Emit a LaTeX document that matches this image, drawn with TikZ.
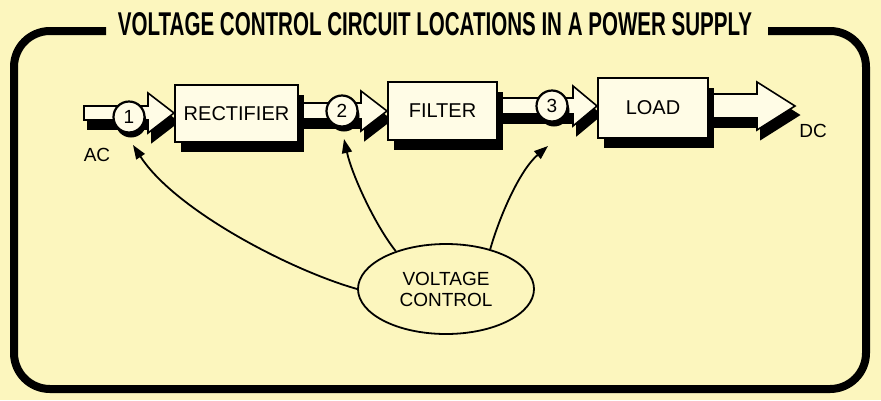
\documentclass[tikz,border=0pt]{standalone}
\usepackage{fontspec}
\setmainfont{Liberation Sans}
\usepackage{graphicx}
\usetikzlibrary{arrows.meta,positioning,shapes.geometric,calc,shadows,backgrounds}

\definecolor{paper}{RGB}{252,246,190}
\definecolor{boxfill}{RGB}{255,252,230}

\pgfdeclarelayer{paperlayer}
\pgfsetlayers{paperlayer,background,main}

\tikzset{
  blockbox/.style={draw, line width=2pt, fill=boxfill, inner sep=0pt,
    font=\fontsize{20}{22}\selectfont,
    drop shadow={shadow xshift=6pt, shadow yshift=-10pt, fill=black, opacity=1}},
  tapnode/.style={circle, draw, line width=2.2pt, fill=boxfill, minimum size=31pt, inner sep=0pt,
    font=\fontsize{19}{21}\selectfont,
    drop shadow={shadow xshift=2pt, shadow yshift=-5pt, fill=black, opacity=1}},
  ctrlarrow/.style={line width=1.8pt, -{Triangle[length=14pt,width=10pt]}},
  sidelabel/.style={font=\fontsize{19}{21}\selectfont, inner sep=0pt},
}

% fat band arrow: #1 start, #2 tip, #3 half band, #4 head length, #5 head overhang
\newcommand{\fatarrow}[5]{%
  \foreach \sx/\sy/\col in {4/9/black,0/0/boxfill}
    \filldraw[fill=\col, line width=1.6pt, line join=miter]
      ($(#1)+(\sx,-#3+\sy)$) -- ($(#2)+(-#4+\sx,-#3+\sy)$) -- ++(0,-#5)
      -- ($(#2)+(\sx,\sy)$) -- ($(#2)+(-#4+\sx,#3+#5+\sy)$) -- ++(0,-#5)
      -- ($(#1)+(\sx,#3+\sy)$) -- cycle;
}

\begin{document}
\begin{tikzpicture}[x=1pt,y=-1pt]
\begin{pgfonlayer}{paperlayer}
\fill[paper] (0,0) rectangle (881,400);
\end{pgfonlayer}
\useasboundingbox (0,0) rectangle (881,400);

% frame and title
\draw[line width=8pt, rounded corners=36pt] (106,31) -- (14,31) -- (14,389) -- (866,389) -- (866,31) -- (768,31);
\node[font=\bfseries, inner sep=0pt] (title) at (435,24)
  {\resizebox{634pt}{23pt}{VOLTAGE CONTROL CIRCUIT LOCATIONS IN A POWER SUPPLY}};

% blocks
\node[blockbox, minimum width=123pt, minimum height=57pt] (rect) at (236.5,113.5) {RECTIFIER};
\node[blockbox, minimum width=109pt, minimum height=58pt] (filt) at (442.5,111) {FILTER};
\node[blockbox, minimum width=110pt, minimum height=60pt] (load) at (653,108) {LOAD};

% control points
\node[tapnode] (c1) at (129,117) {1};
\node[tapnode] (c2) at (342,111) {2};
\node[tapnode] (c3) at (552,106) {3};

\coordinate (acin) at (84,113);
\coordinate (dcout) at (795,106);
\node[sidelabel] (ac) at (97,155) {AC};
\node[sidelabel] (dc) at (813,131) {DC};

% band arrows
\begin{scope}[on background layer]
\fatarrow{acin}{rect.west |- acin}{7}{26}{13}
\fatarrow{rect.east |- c2}{filt.west |- c2}{8}{26}{12}
\fatarrow{filt.east |- c3}{load.west |- c3}{8}{24}{12}
\fatarrow{load.east |- dcout}{dcout}{12}{38}{12}
\end{scope}

% voltage control
\node[ellipse, draw, line width=1.8pt, minimum width=176pt, minimum height=90pt,
  align=center, font=\fontsize{19}{21}\selectfont] (vc) at (446,289) {VOLTAGE\\CONTROL};
\coordinate (t1) at (133,145);
\coordinate (t2) at (344,139);
\coordinate (t3) at (548,146);
\draw[ctrlarrow] (vc.180) .. controls (290,270) and (175,210) .. (t1);
\draw[ctrlarrow] (vc.143) .. controls (375,225) and (352,175) .. (t2);
\draw[ctrlarrow] (vc.42) .. controls (500,215) and (520,170) .. (t3);
\end{tikzpicture}
\end{document}
